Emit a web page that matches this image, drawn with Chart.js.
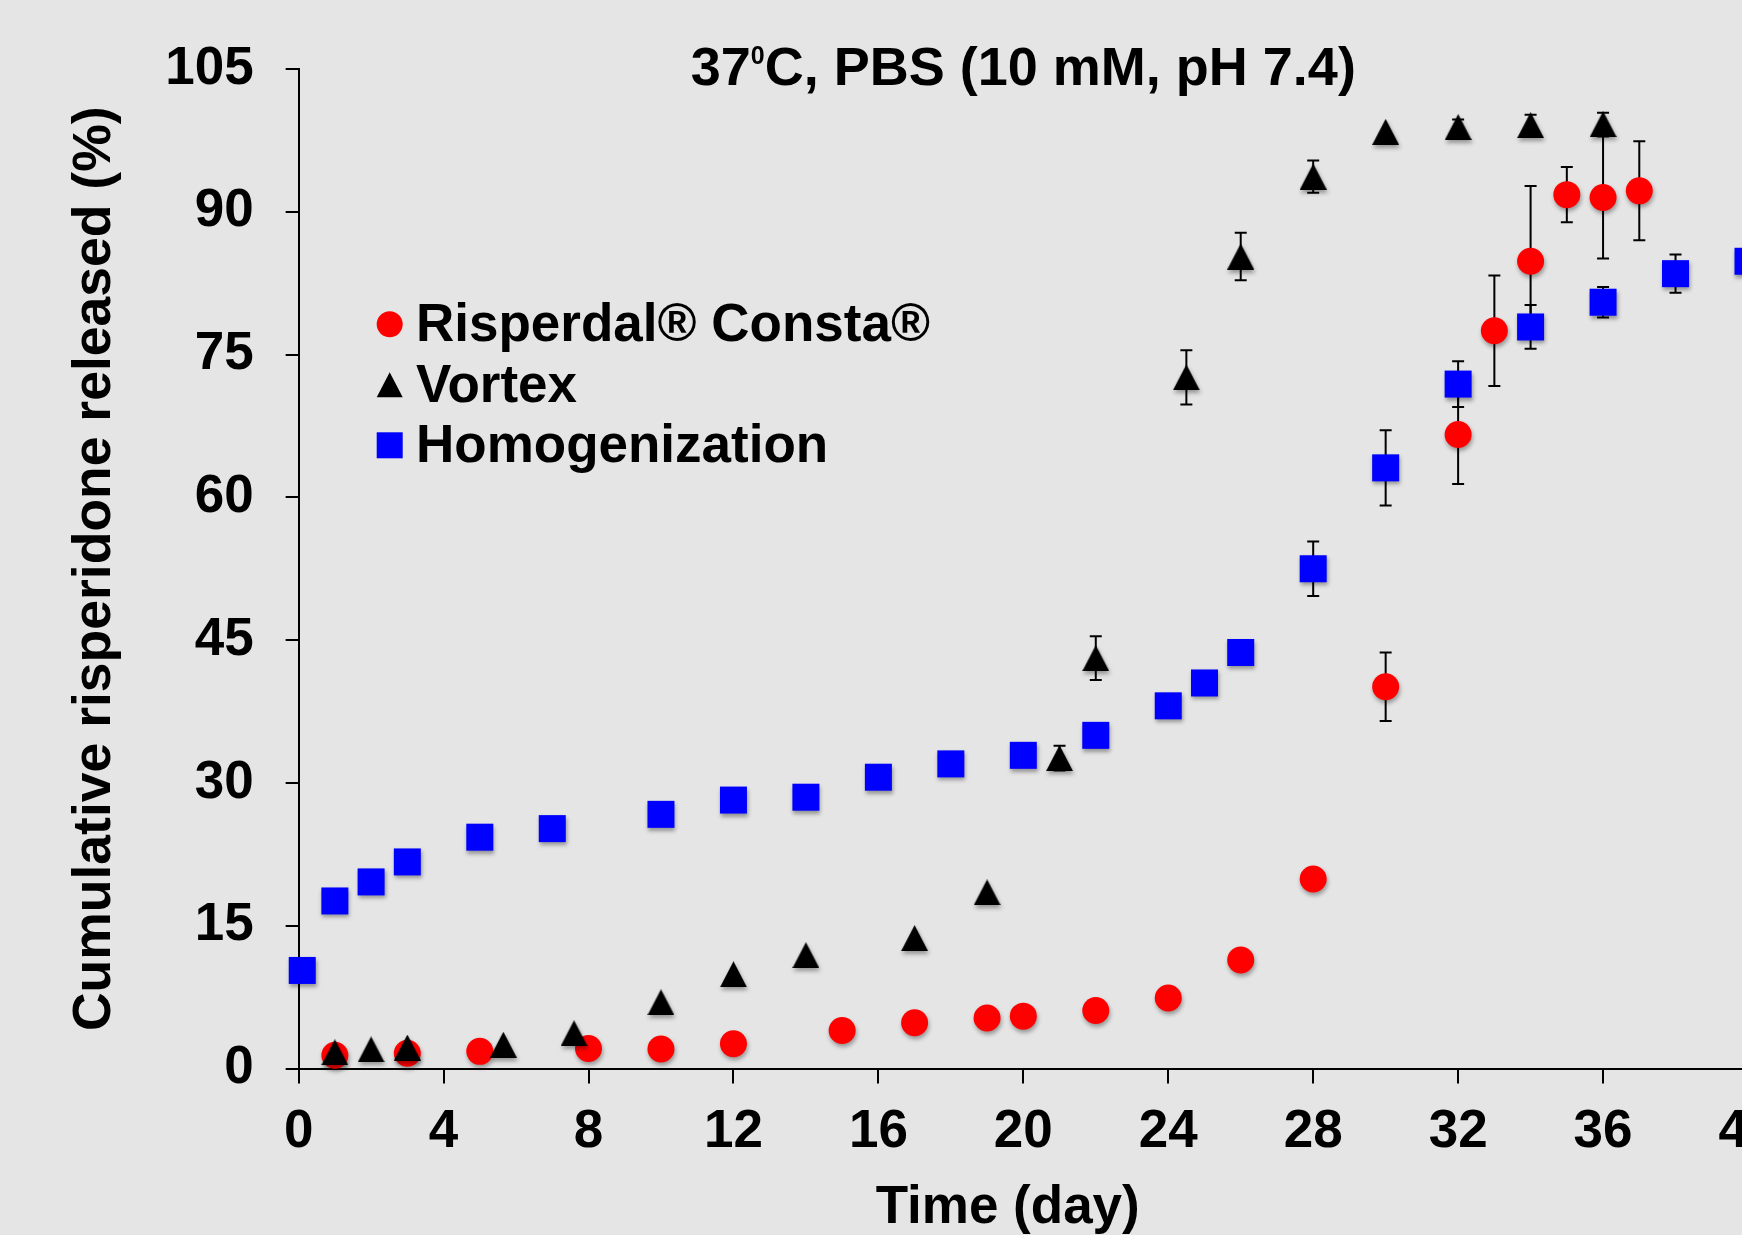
<!DOCTYPE html>
<html lang="en">
<head>
<meta charset="UTF-8">
<title>Cumulative risperidone released</title>
<style>
  html, body {
    margin: 0;
    padding: 0;
    overflow: hidden;
    background-color: #e5e5e5;
  }
  #chart { display: block; }
</style>
</head>
<body>
<canvas id="chart" width="1800" height="1250"></canvas>
<script src="https://cdn.jsdelivr.net/npm/chart.js"></script>
<script>
// values: day, cumulative release (%), error (+/-)
const seriesNames = ["Risperdal® Consta®", "Vortex", "Homogenization"];

const risperdalDays   = [1, 3, 5, 8, 10, 12, 15, 17, 19, 20, 22, 24, 26, 28, 30, 32, 33, 34, 35, 36, 37];
const risperdalValues = [1.4, 1.6, 1.8, 2.1, 2.05, 2.6, 4.0, 4.8, 5.3, 5.5, 6.1, 7.4, 11.4, 19.9, 40.1, 66.6, 77.5, 84.8, 91.8, 91.5, 92.2];
const risperdalErrors = [0, 0, 0, 0, 0, 0, 0, 0, 0, 0, 0, 0, 0, 0, 3.6, 5.2, 5.8, 7.9, 2.9, 6.4, 5.2];

const vortexDays   = [1, 2, 3, 5.65, 7.6, 10, 12, 14, 17, 19, 21, 22, 24.5, 26, 28, 30, 32, 34, 36];
const vortexValues = [1.7, 2.0, 2.2, 2.5, 3.7, 6.95, 9.9, 11.9, 13.7, 18.5, 32.6, 43.1, 72.6, 85.3, 93.7, 98.4, 98.9, 99.1, 99.2];
const vortexErrors = [0, 0, 0, 0, 0, 0, 0, 0, 0, 0, 1.3, 2.3, 2.85, 2.5, 1.7, 0, 0.8, 1.1, 1.2];

const homogDays   = [0.1, 1, 2, 3, 5, 7, 10, 12, 14, 16, 18, 20, 22, 24, 25, 26, 28, 30, 32, 34, 36, 38, 40];
const homogValues = [10.3, 17.6, 19.6, 21.7, 24.3, 25.2, 26.7, 28.2, 28.5, 30.6, 32.0, 32.9, 35.0, 38.1, 40.5, 43.7, 52.5, 63.1, 71.9, 77.9, 80.5, 83.5, 84.8];
const homogErrors = [0, 0, 0, 0, 0, 0, 0, 0, 0, 0, 0, 0, 0, 0, 0, 0, 2.85, 3.95, 2.4, 2.3, 1.6, 2.0, 0];

const xTicks = [0, 4, 8, 12, 16, 20, 24, 28, 32, 36, 40];
const yTicks = [0, 15, 30, 45, 60, 75, 90, 105];

const xTitle = "Time (day)";
const yTitle = "Cumulative risperidone released (%)";

const FONT = '"Liberation Sans", Arial, sans-serif';

function toPoints(days, values) {
  return days.map((d, i) => ({ x: d, y: values[i] }));
}

// triangle marker centred on its box (like the original markers)
function makeTriangle(w, h, color) {
  const c = document.createElement("canvas");
  c.width = w;
  c.height = h;
  const g = c.getContext("2d");
  g.fillStyle = color;
  g.beginPath();
  g.moveTo(w / 2, 0);
  g.lineTo(w, h);
  g.lineTo(0, h);
  g.closePath();
  g.fill();
  return c;
}
const triangleMarker = makeTriangle(27, 26, "black");

const errorSets = [risperdalErrors, vortexErrors, homogErrors];

// error bars behind the markers, then a soft shadow for the markers
const errorBarPlugin = {
  id: "errorBars",
  beforeDatasetsDraw(chart) {
    const ctx = chart.ctx;
    const xs = chart.scales.x, ys = chart.scales.y;
    ctx.save();
    ctx.strokeStyle = "black";
    ctx.lineWidth = 2;
    chart.data.datasets.forEach((ds, di) => {
      const errs = errorSets[di];
      ds.data.forEach((p, i) => {
        const e = errs[i];
        if (!e) return;
        const px = xs.getPixelForValue(p.x);
        const top = ys.getPixelForValue(p.y + e);
        const bot = ys.getPixelForValue(p.y - e);
        ctx.beginPath();
        ctx.moveTo(px, top);
        ctx.lineTo(px, bot);
        ctx.moveTo(px - 6, top);
        ctx.lineTo(px + 6, top);
        ctx.moveTo(px - 6, bot);
        ctx.lineTo(px + 6, bot);
        ctx.stroke();
      });
    });
    ctx.restore();

    ctx.save();
    ctx.shadowColor = "rgba(0, 0, 0, 0.35)";
    ctx.shadowBlur = 4;
    ctx.shadowOffsetX = 1;
    ctx.shadowOffsetY = 3;
  },
  afterDatasetsDraw(chart) {
    chart.ctx.restore();
  }
};

// title with a superscript zero, x axis title and the legend inside the plot
const textPlugin = {
  id: "texts",
  afterDraw(chart) {
    const ctx = chart.ctx;
    const area = chart.chartArea;
    ctx.save();
    ctx.fillStyle = "black";
    ctx.textBaseline = "alphabetic";
    ctx.textAlign = "left";

    const big = "bold 54px " + FONT;
    const small = "bold 25px " + FONT;
    const a = "37", b = "0", c = "C, PBS (10 mM, pH 7.4)";
    ctx.font = big;
    const wa = ctx.measureText(a).width;
    const wc = ctx.measureText(c).width;
    ctx.font = small;
    const wb = ctx.measureText(b).width;
    const total = wa + wb + wc;
    let x = (area.left + area.right) / 2 - total / 2;
    const base = 85;
    ctx.font = big;
    ctx.fillText(a, x, base);
    x += wa;
    ctx.font = small;
    ctx.fillText(b, x, base - 21);
    x += wb;
    ctx.font = big;
    ctx.fillText(c, x, base);

    // x axis title (sits a little left of the axis centre in the original)
    ctx.font = "bold 53px " + FONT;
    ctx.textAlign = "center";
    ctx.fillText(xTitle, 1007.7, 1222.7);
    ctx.textAlign = "left";

    // legend
    const lx = 389.7, ly = 324.3, step = 60.5;
    ctx.font = "bold 53px " + FONT;
    chart.data.datasets.forEach((ds, i) => {
      const cy = ly + i * step;
      ctx.fillStyle = ds.backgroundColor;
      ctx.beginPath();
      if (i === 0) {
        ctx.arc(lx, cy, 13, 0, Math.PI * 2);
        ctx.fill();
      } else if (i === 1) {
        ctx.moveTo(lx, cy - 12.5);
        ctx.lineTo(lx + 13, cy + 12.5);
        ctx.lineTo(lx - 13, cy + 12.5);
        ctx.closePath();
        ctx.fill();
      } else {
        ctx.fillRect(lx - 13, cy - 13, 26, 26);
      }
      ctx.fillStyle = "black";
      ctx.fillText(ds.label, 416, cy + 17);
    });
    ctx.restore();
  }
};

const ctx = document.getElementById("chart").getContext("2d");

new Chart(ctx, {
  type: "scatter",
  data: {
    datasets: [
      {
        label: seriesNames[0],
        data: toPoints(risperdalDays, risperdalValues),
        backgroundColor: "#ff0000",
        borderWidth: 0,
        pointStyle: "circle",
        pointRadius: 13.5,
        pointHoverRadius: 13.5,
        clip: false,
        order: 2
      },
      {
        label: seriesNames[1],
        data: toPoints(vortexDays, vortexValues),
        backgroundColor: "#000000",
        borderWidth: 0,
        pointStyle: triangleMarker,
        pointRadius: 14,
        clip: false,
        order: 1
      },
      {
        label: seriesNames[2],
        data: toPoints(homogDays, homogValues),
        backgroundColor: "#0000ff",
        borderWidth: 0,
        pointStyle: "rect",
        pointRadius: 19.1,
        pointHoverRadius: 19.1,
        clip: false,
        order: 0
      }
    ]
  },
  options: {
    responsive: false,
    animation: false,
    events: [],
    layout: {
      padding: { left: 63, right: 52, top: 69, bottom: 68.9 }
    },
    plugins: {
      legend: { display: false },
      title: { display: false },
      tooltip: { enabled: false }
    },
    scales: {
      x: {
        type: "linear",
        min: 0,
        max: 40,
        afterBuildTicks: (axis) => { axis.ticks = xTicks.map(v => ({ value: v })); },
        ticks: {
          color: "black",
          padding: 17,
          maxRotation: 0,
          font: { family: FONT, size: 53, weight: "bold" }
        },
        grid: {
          drawOnChartArea: false,
          drawTicks: true,
          tickLength: 15,
          color: "black",
          lineWidth: 2
        },
        border: { color: "black", width: 2 }
      },
      y: {
        type: "linear",
        min: 0,
        max: 105,
        afterBuildTicks: (axis) => { axis.ticks = yTicks.map(v => ({ value: v })); },
        ticks: {
          color: "black",
          padding: 32,
          font: { family: FONT, size: 53, weight: "bold" }
        },
        grid: {
          drawOnChartArea: false,
          drawTicks: true,
          tickLength: 13,
          color: "black",
          lineWidth: 2
        },
        border: { color: "black", width: 2 },
        title: {
          display: true,
          text: yTitle,
          color: "black",
          padding: { top: 0, bottom: 6 },
          font: { family: FONT, size: 53.5, weight: "bold" }
        }
      }
    }
  },
  plugins: [errorBarPlugin, textPlugin]
});
</script>
</body>
</html>
